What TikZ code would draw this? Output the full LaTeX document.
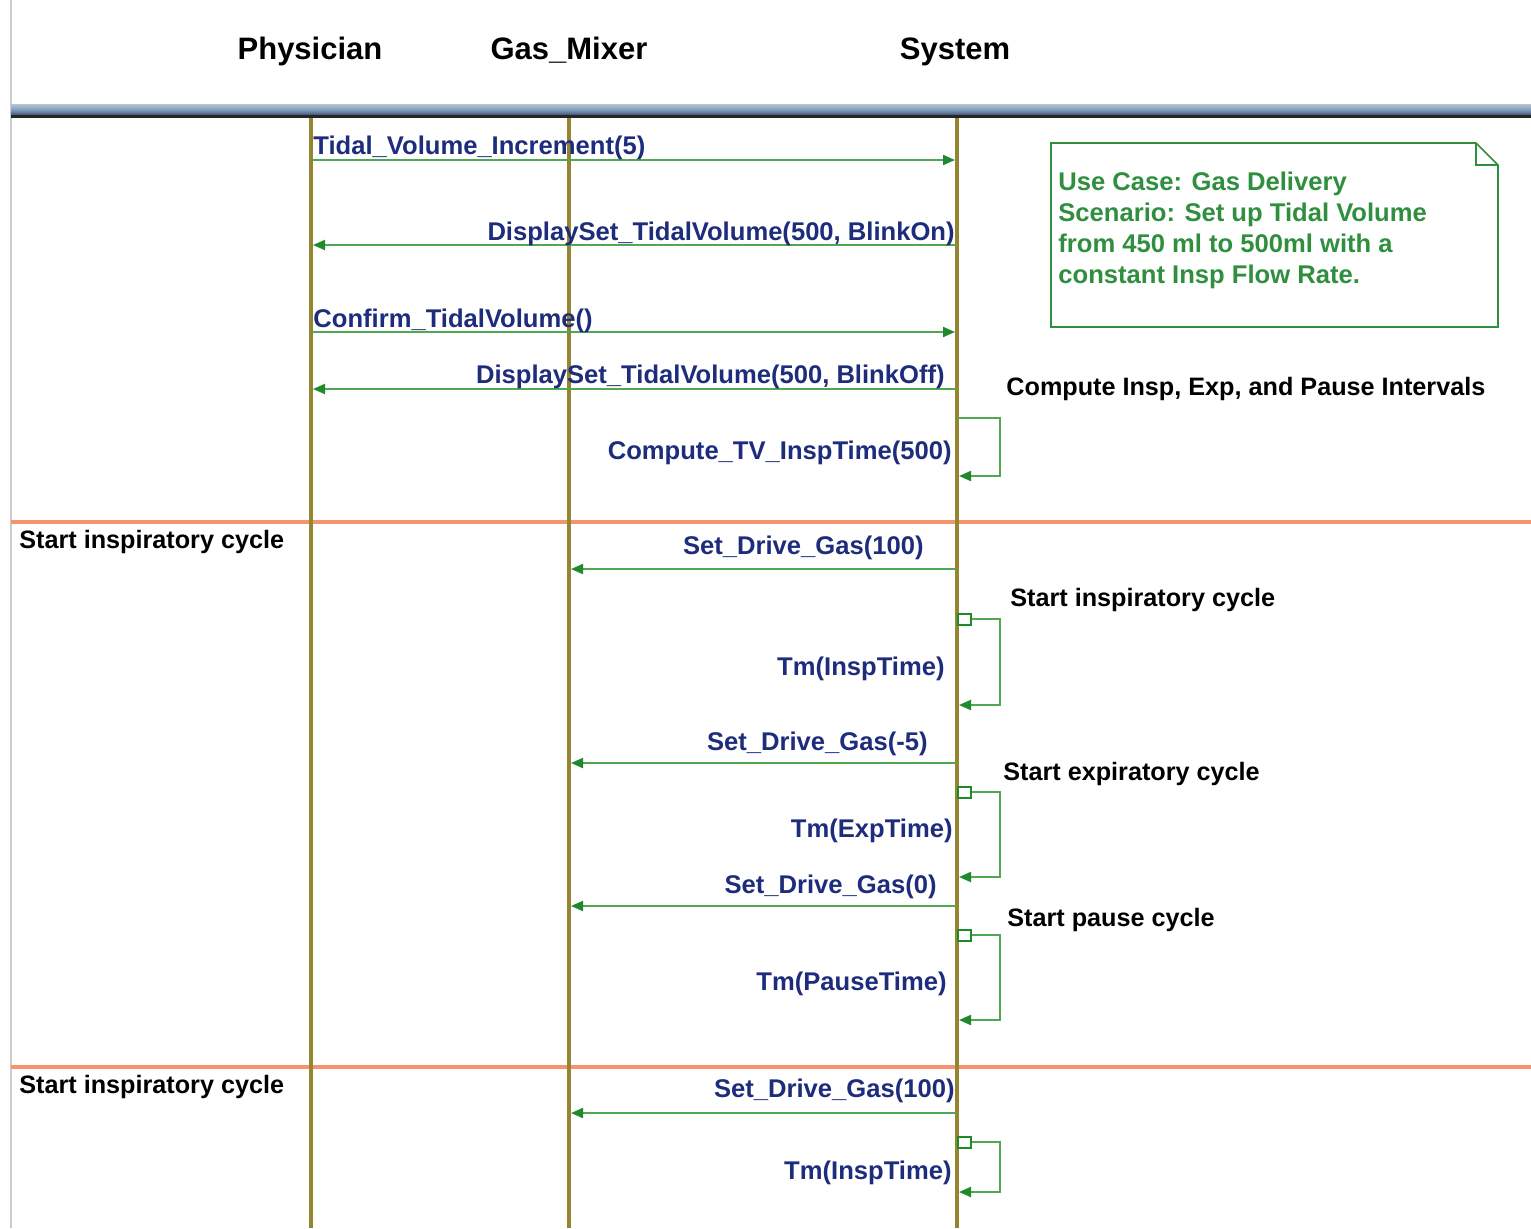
\documentclass[tikz,border=0pt]{standalone}
\usepackage{fontspec}
\setmainfont{Liberation Sans}
\usetikzlibrary{arrows.meta}
\definecolor{life}{HTML}{968530}
\definecolor{msg}{HTML}{52A852}
\definecolor{tip}{HTML}{1E8A2C}
\definecolor{lbl}{HTML}{1E2C7C}
\definecolor{notec}{HTML}{2F8F3F}
\definecolor{sep}{HTML}{F5946F}
\definecolor{bandtop}{HTML}{B2C4D6}
\definecolor{bandmid}{HTML}{7F9BB8}
\definecolor{bandbot}{HTML}{3A5674}
\begin{document}
\begin{tikzpicture}[x=0.5pt,y=-0.5pt,
  lifeline/.style={draw=life,line width=1.8pt},
  msgline/.style={draw=msg,line width=1pt,-{Triangle[length=6pt,width=5pt,color=tip]}},
  lbltext/.style={inner sep=0pt,text=lbl,font=\fontsize{12.8}{15}\selectfont\bfseries},
  blktext/.style={inner sep=0pt,text=black,font=\fontsize{12.6}{15}\selectfont\bfseries},
  headtext/.style={inner sep=0pt,text=black,font=\fontsize{15.5}{18}\selectfont\bfseries},
  notetext/.style={inner sep=0pt,text=notec,anchor=base west,font=\fontsize{12.8}{15}\selectfont\bfseries},
  sqbox/.style={draw=tip,fill=white,line width=1pt,minimum width=6.5pt,minimum height=5.5pt,inner sep=0pt},
  sepline/.style={draw=sep,line width=1.6pt}
]
\useasboundingbox (0,0) rectangle (1531,1228);
\fill[white] (0,0) rectangle (1531,1228);
% left border
\draw[gray!40,line width=0.6pt] (11,0) -- (11,1228);
% header band
\shade[top color=bandtop,bottom color=bandmid] (11,104) rectangle (1531,110);
\shade[top color=bandmid,bottom color=bandbot] (11,110) rectangle (1531,115);
\fill[black!85] (11,115) rectangle (1531,118);
% headers
\node[headtext,anchor=base] (hP) at (310,59) {Physician};
\node[headtext,anchor=base] (hG) at (569,59) {Gas\_Mixer};
\node[headtext,anchor=base] (hS) at (955,59) {System};
% separators
\coordinate (sa1) at (11,522); \coordinate (sa2) at (1531,522);
\coordinate (sb1) at (11,1067); \coordinate (sb2) at (1531,1067);
\draw[sepline] (sa1) -- (sa2);
\draw[sepline] (sb1) -- (sb2);
% lifelines
\coordinate (Pt) at (311,118); \coordinate (Pb) at (311,1228);
\coordinate (Gt) at (569,118); \coordinate (Gb) at (569,1228);
\coordinate (St) at (957,118); \coordinate (Sb) at (957,1228);
\draw[lifeline] (Pt) -- (Pb);
\draw[lifeline] (Gt) -- (Gb);
\draw[lifeline] (St) -- (Sb);
% messages
\coordinate (m1a) at (312,160); \coordinate (m1b) at (955,160);
\draw[msgline] (m1a) -- (m1b);
\node[lbltext,anchor=base west] (t1) at (313,154) {Tidal\_Volume\_Increment(5)};
\coordinate (m2a) at (956,245); \coordinate (m2b) at (313,245);
\draw[msgline] (m2a) -- (m2b);
\node[lbltext,anchor=base east] (t2) at (955,240) {DisplaySet\_TidalVolume(500, BlinkOn)};
\coordinate (m3a) at (312,332); \coordinate (m3b) at (955,332);
\draw[msgline] (m3a) -- (m3b);
\node[lbltext,anchor=base west] (t3) at (313,327) {Confirm\_TidalVolume()};
\coordinate (m4a) at (956,389); \coordinate (m4b) at (313,389);
\draw[msgline] (m4a) -- (m4b);
\node[lbltext,anchor=base east] (t4) at (945,383) {DisplaySet\_TidalVolume(500, BlinkOff)};
% self loop 1
\coordinate (m5a) at (958,418); \coordinate (m5b) at (959,476);
\draw[msgline] (m5a) -- (1000,418) -- (1000,476) -- (m5b);
\node[lbltext,anchor=base east] (t5) at (952,459) {Compute\_TV\_InspTime(500)};
\node[blktext,anchor=base west] (c1) at (1006,395) {Compute Insp, Exp, and Pause Intervals};
% note
\draw[draw=notec,line width=0.8pt,fill=white] (1051,143) -- (1476,143) -- (1498,165) -- (1498,327) -- (1051,327) -- cycle;
\draw[draw=notec,line width=0.6pt] (1476,143) -- (1476,165) -- (1498,165);
\node[notetext] (n1) at (1058,190) {Use Case: Gas Delivery};
\node[notetext] (n2) at (1058,221) {Scenario: Set up Tidal Volume};
\node[notetext] (n3) at (1058,252) {from 450 ml to 500ml with a};
\node[notetext] (n4) at (1058,283) {constant Insp Flow Rate.};
% inspiratory cycle 1
\node[blktext,anchor=base west] (c2) at (19,548) {Start inspiratory cycle};
\coordinate (m6a) at (956,569); \coordinate (m6b) at (571,569);
\draw[msgline] (m6a) -- (m6b);
\node[lbltext,anchor=base east] (t6) at (924,554) {Set\_Drive\_Gas(100)};
\node[sqbox] (q1) at (964,619) {};
\coordinate (m7b) at (959,705);
\draw[msgline] (q1.east) -- (1000,619) -- (1000,705) -- (m7b);
\node[lbltext,anchor=base east] (t7) at (945,675) {Tm(InspTime)};
\node[blktext,anchor=base west] (c3) at (1010,606) {Start inspiratory cycle};
% expiratory
\coordinate (m8a) at (956,763); \coordinate (m8b) at (571,763);
\draw[msgline] (m8a) -- (m8b);
\node[lbltext,anchor=base east] (t8) at (928,750) {Set\_Drive\_Gas(-5)};
\node[sqbox] (q2) at (964,792) {};
\coordinate (m9b) at (959,877);
\draw[msgline] (q2.east) -- (1000,792) -- (1000,877) -- (m9b);
\node[lbltext,anchor=base east] (t9) at (953,837) {Tm(ExpTime)};
\node[blktext,anchor=base west] (c4) at (1003,780) {Start expiratory cycle};
% pause
\coordinate (m10a) at (956,906); \coordinate (m10b) at (571,906);
\draw[msgline] (m10a) -- (m10b);
\node[lbltext,anchor=base east] (t10) at (937,893) {Set\_Drive\_Gas(0)};
\node[sqbox] (q3) at (964,935) {};
\coordinate (m11b) at (959,1020);
\draw[msgline] (q3.east) -- (1000,935) -- (1000,1020) -- (m11b);
\node[lbltext,anchor=base east] (t11) at (947,990) {Tm(PauseTime)};
\node[blktext,anchor=base west] (c5) at (1007,926) {Start pause cycle};
% inspiratory cycle 2
\node[blktext,anchor=base west] (c6) at (19,1093) {Start inspiratory cycle};
\coordinate (m12a) at (956,1113); \coordinate (m12b) at (571,1113);
\draw[msgline] (m12a) -- (m12b);
\node[lbltext,anchor=base east] (t12) at (955,1097) {Set\_Drive\_Gas(100)};
\node[sqbox] (q4) at (964,1142) {};
\coordinate (m13b) at (959,1192);
\draw[msgline] (q4.east) -- (1000,1142) -- (1000,1192) -- (m13b);
\node[lbltext,anchor=base east] (t13) at (952,1179) {Tm(InspTime)};
\end{tikzpicture}
\end{document}
